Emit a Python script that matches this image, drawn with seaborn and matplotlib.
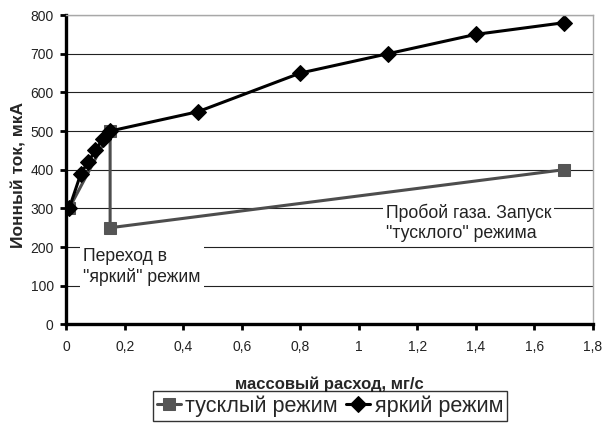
import matplotlib
matplotlib.use("Agg")
import matplotlib.pyplot as plt
import seaborn as sns
from matplotlib.ticker import FuncFormatter

# тусклый режим
dim_x = [0.01, 0.15, 0.15, 1.7]
dim_y = [300, 500, 250, 400]

# яркий режим
bright_x = [0.01, 0.05, 0.075, 0.1, 0.125, 0.15, 0.45, 0.8, 1.1, 1.4, 1.7]
bright_y = [300, 390, 420, 450, 480, 500, 550, 650, 700, 750, 780]

x_ticks = [0, 0.2, 0.4, 0.6, 0.8, 1.0, 1.2, 1.4, 1.6, 1.8]
y_ticks = [0, 100, 200, 300, 400, 500, 600, 700, 800]

sns.set_style("white")
plt.rcParams['font.family'] = ['Liberation Sans', 'DejaVu Sans']

fig, ax = plt.subplots(figsize=(6.02, 4.23), dpi=100)
fig.subplots_adjust(left=0.110, right=0.985, bottom=0.233, top=0.9645)

sns.lineplot(x=dim_x, y=dim_y, sort=False, estimator=None, ax=ax,
             color='#4d4d4d', lw=2.2, marker='s', markersize=8,
             markeredgecolor='#555555', markerfacecolor='#555555',
             label='тусклый режим')
sns.lineplot(x=bright_x, y=bright_y, sort=False, estimator=None, ax=ax,
             color='black', lw=2.2, marker='D', markersize=8,
             markeredgecolor='black', label='яркий режим')

ax.set_xlim(0, 1.8)
ax.set_ylim(0, 800)
ax.set_xticks(x_ticks)
ax.set_yticks(y_ticks)
ax.xaxis.set_major_formatter(FuncFormatter(lambda v, p: f"{v:g}".replace('.', ',')))
ax.tick_params(axis='both', direction='out', length=4, width=2, labelsize=10,
               colors='black', labelcolor='#222222', bottom=True, left=True)
ax.tick_params(axis='x', pad=7.5)
ax.tick_params(axis='y', pad=5)

ax.set_axisbelow(True)
ax.yaxis.grid(True, color='#222222', lw=0.8)
ax.xaxis.grid(False)

for s in ['left', 'bottom']:
    ax.spines[s].set_color('black')
    ax.spines[s].set_linewidth(2.4)
for s in ['top', 'right']:
    ax.spines[s].set_color('#a8a8a8')
    ax.spines[s].set_linewidth(1)

ax.set_xlabel('массовый расход, мг/с', fontsize=12, fontweight='bold', labelpad=16)
ax.set_ylabel('Ионный ток, мкА', fontsize=12.5, fontweight='bold')
ax.yaxis.set_label_coords(-0.076, 0.483)

box = dict(facecolor='white', edgecolor='none', pad=2)
ax.text(0.058, 148, 'Переход в\n"яркий" режим', fontsize=12.7, ha='left',
        va='center', bbox=box, color='#222222')
ax.text(1.093, 263, 'Пробой газа. Запуск\n"тусклого" режима', fontsize=12.7,
        ha='left', va='center', bbox=box, color='#222222')

ax.get_legend().remove()
h, l = ax.get_legend_handles_labels()
leg = fig.legend(h, l, loc='upper center', bbox_to_anchor=(330 / 602, 1 - 391 / 423),
                 ncol=2, fontsize=15.6, frameon=True, fancybox=False,
                 edgecolor='black', handlelength=1.1, handletextpad=0.2,
                 columnspacing=0.4, borderpad=0.2, borderaxespad=0)
leg.get_frame().set_linewidth(1)

fig.savefig('out.png', dpi=100)
